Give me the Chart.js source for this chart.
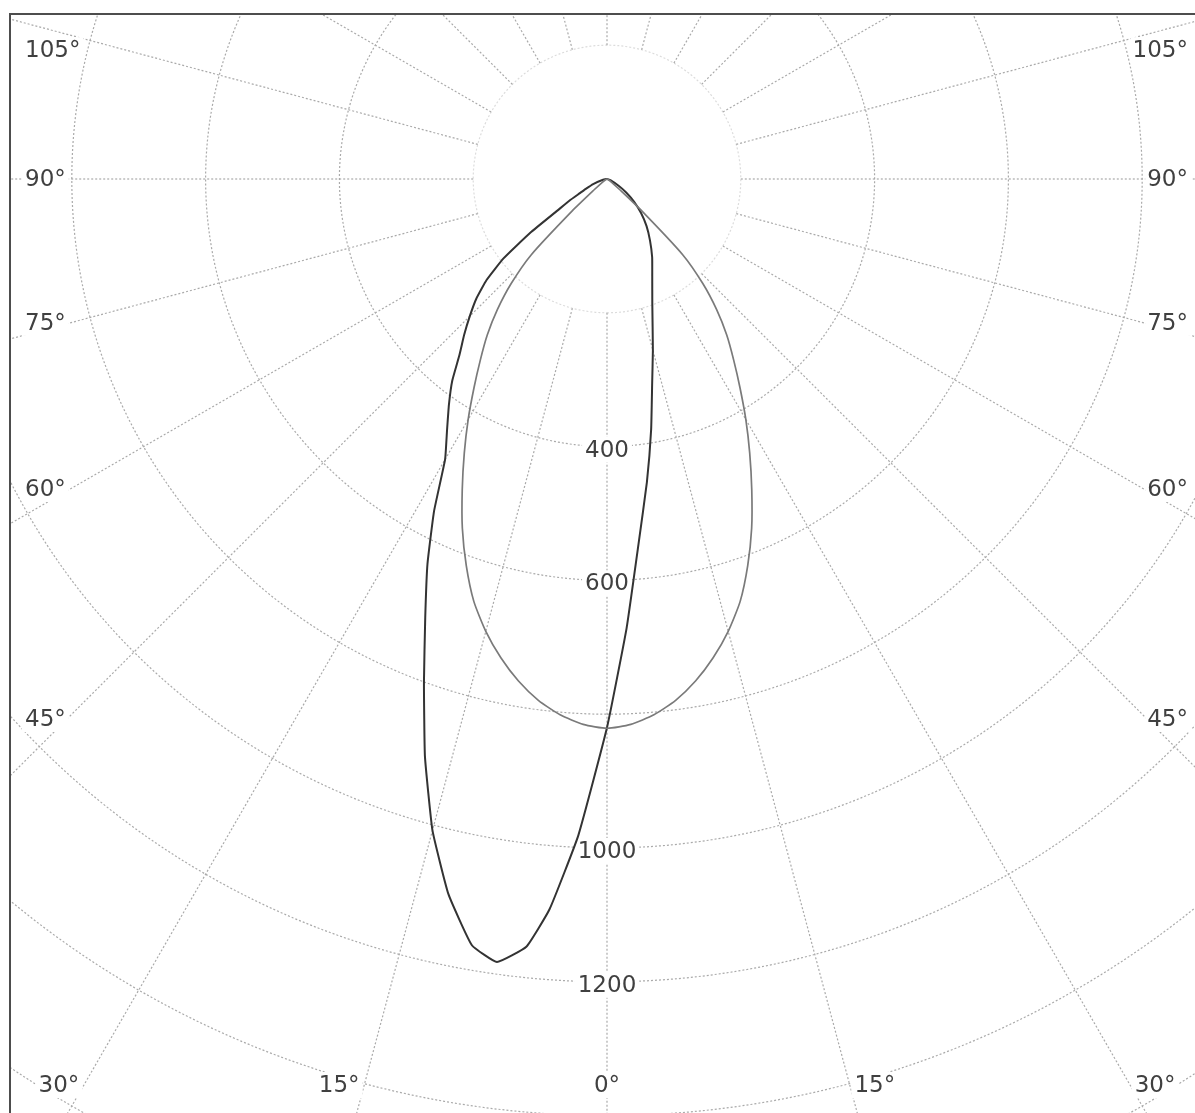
<!DOCTYPE html>
<html><head><meta charset="utf-8">
<script src="https://cdn.jsdelivr.net/npm/chart.js@4/dist/chart.umd.min.js"></script>
<style>html,body{margin:0;padding:0;background:#fff;overflow:hidden;} canvas{display:block;}</style>
</head><body>
<canvas id="c" width="1195" height="1113"></canvas>
<script>
// ---- data (angle in degrees from nadir, negative = left; intensity in cd) ----
const anglesDark = [-90,-80,-70,-65,-62.5,-60,-57.5,-55,-52.5,-50,-47.5,-45,-42.5,-40,-37.5,-35,-32.5,-30,-27.5,-25,-22.5,-20,-17.5,-15,-12.5,-10,-8,-6,-4.5,-2.5,0,2.5,5,7.5,10,12.5,15,20,25,30,35,40,45,50,55,60,70,80,90];
const valuesDark = [0,6,22,35,45,65,88,140,195,235,265,290,316,343,380,412,445,484,560,635,710,800,905,1008,1095,1163,1182,1154,1095,982,820,672,545,457,380,312,265,198,160,135,112,92,72,53,35,20,6,1,0];

const anglesGray = [-90,-70,-60,-55,-50,-47.5,-45,-42.5,-40,-37.5,-35,-32.5,-30,-27.5,-25,-22.5,-20,-17.5,-15,-12.5,-10,-7.5,-5,-2.5,0,2.5,5,7.5,10,12.5,15,17.5,20,22.5,25,27.5,30,32.5,35,37.5,40,42.5,45,47.5,50,55,60,70,90];
const valuesGray = [0,0,3,8,25,70,160,212,255,294,330,370,415,462,512,565,615,662,700,733,762,786,804,816,821,816,804,786,762,733,700,662,615,565,512,462,415,370,330,294,255,212,160,70,25,8,3,0,0];

const ringValues = [200,400,600,800,1000,1200,1400,1600,1800];
const ringLabels = [400,600,1000,1200];
const spokeAngles = [0,15,30,45,60,75,90,105,120,135,150,165,180,195,210,225,240,255,270,285,300,315,330,345];
const sideLabelAngles = [105,90,75,60,45];
const bottomLabelAngles = [-30,-15,0,15,30];

function toXY(angles, values){
  return angles.map((a,i)=>({x: values[i]*Math.sin(a*Math.PI/180), y: -values[i]*Math.cos(a*Math.PI/180)}));
}

const FONT = '23px "DejaVu Sans", Verdana, sans-serif';
const TXT = '#404040';

const polarGrid = {
  id:'polarGrid',
  beforeDatasetsDraw(chart){
    const ctx=chart.ctx, xs=chart.scales.x, ys=chart.scales.y, a=chart.chartArea;
    const P=(r,deg)=>[xs.getPixelForValue(r*Math.sin(deg*Math.PI/180)), ys.getPixelForValue(-r*Math.cos(deg*Math.PI/180))];
    ctx.save();
    ctx.beginPath(); ctx.rect(a.left,a.top,a.right-a.left,a.bottom-a.top); ctx.clip();
    ctx.lineWidth=1.2; ctx.setLineDash([2,2]);
    ringValues.forEach((r,i)=>{
      ctx.strokeStyle = i===0 ? '#dcdcdc' : '#aaaaaa';
      ctx.beginPath();
      for(let d=0; d<=360; d+=1){ const [x,y]=P(r,d); if(d===0) ctx.moveTo(x,y); else ctx.lineTo(x,y); }
      ctx.stroke();
    });
    ctx.strokeStyle='#aaaaaa';
    spokeAngles.forEach(d=>{
      const [x0,y0]=P(ringValues[0],d), [x1,y1]=P(2400,d);
      ctx.beginPath(); ctx.moveTo(x0,y0); ctx.lineTo(x1,y1); ctx.stroke();
    });
    ctx.setLineDash([]);
    ctx.font=FONT; ctx.fillStyle=TXT;
    // intensity labels on the 0° line
    ringLabels.forEach(v=>{
      const [x,y0]=P(v,0); const y=y0+3;
      const w=ctx.measureText(String(v)).width;
      ctx.fillStyle='#fff'; ctx.fillRect(x-w/2-3,y-13,w+6,26);
      ctx.fillStyle=TXT; ctx.textAlign='center'; ctx.textBaseline='middle';
      ctx.fillText(String(v),x,y+1);
    });
    // side labels
    const cxp=xs.getPixelForValue(0);
    const lx=xs.getValueForPixel(70), rx=xs.getValueForPixel(2*cxp-70);
    sideLabelAngles.forEach(d=>{
      const s=Math.sin(d*Math.PI/180), c=Math.cos(d*Math.PI/180);
      const off = d>90 ? 15 : (d<60 ? 3 : 0);
      const yl = ys.getPixelForValue(-(lx/(-s))*c) + off;
      const yr = ys.getPixelForValue(-(rx/s)*c) + off;
      const t=d+'°'; const w=ctx.measureText(t).width;
      ctx.fillStyle='#fff';
      ctx.fillRect(22,yl-13,w+6,26); ctx.fillRect(1190-w-4,yr-13,w+6,26);
      ctx.fillStyle=TXT; ctx.textBaseline='middle';
      ctx.textAlign='left'; ctx.fillText(t,25,yl+1);
      ctx.textAlign='right'; ctx.fillText(t,1188,yr+1);
    });
    // bottom labels
    const by=ys.getValueForPixel(1085);
    bottomLabelAngles.forEach(d=>{
      const s=Math.sin(d*Math.PI/180), c=Math.cos(d*Math.PI/180);
      const r=-by/c; let x=xs.getPixelForValue(r*s);
      x += Math.sign(d)*25;
      const t=Math.abs(d)+'°'; const w=ctx.measureText(t).width;
      ctx.fillStyle='#fff'; ctx.fillRect(x-w/2-3,1072,w+6,26);
      ctx.fillStyle=TXT; ctx.textAlign='center'; ctx.textBaseline='middle';
      ctx.fillText(t,x,1086);
    });
    ctx.restore();
  },
  afterDraw(chart){
    const ctx=chart.ctx, a=chart.chartArea;
    ctx.save();
    ctx.strokeStyle='#4d4d4d'; ctx.lineWidth=2;
    ctx.beginPath(); ctx.moveTo(a.left,a.bottom); ctx.lineTo(a.left,a.top); ctx.lineTo(a.right,a.top); ctx.stroke();
    ctx.restore();
  }
};

const K = 0.669; // px per cd
new Chart(document.getElementById('c'), {
  type:'scatter',
  data:{datasets:[
    {label:'C0 - C180', data:toXY(anglesGray,valuesGray), showLine:true, borderColor:'#7a7a7a', borderWidth:1.7, pointRadius:0, tension:0.2, fill:false},
    {label:'C90 - C270', data:toXY(anglesDark,valuesDark), showLine:true, borderColor:'#333333', borderWidth:2, pointRadius:0, tension:0.12, fill:false}
  ]},
  options:{
    responsive:false, animation:false, devicePixelRatio:1,
    layout:{padding:{left:10,top:14,right:0,bottom:0}},
    plugins:{legend:{display:false}, tooltip:{enabled:false}},
    scales:{
      x:{type:'linear', display:false, min:-597/K, max:588/K},
      y:{type:'linear', display:false, min:-934/K, max:165/K}
    }
  },
  plugins:[polarGrid]
});
</script>
</body></html>
